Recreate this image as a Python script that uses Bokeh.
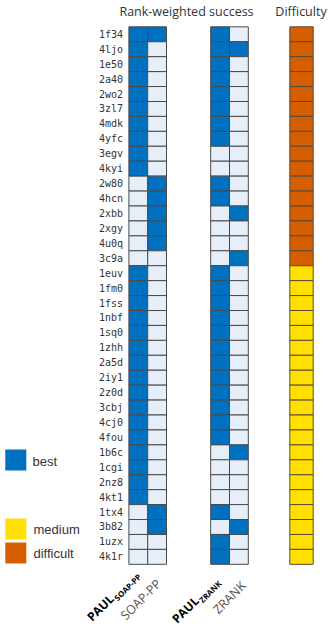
import math
from bokeh.plotting import figure
from bokeh.models import Range1d
from bokeh.embed import file_html
from bokeh.resources import INLINE
from bokeh.core.properties import value

# ---------------- data ----------------
structures = ["1f34", "4ljo", "1e50", "2a40", "2wo2", "3zl7", "4mdk", "4yfc", "3egv", "4kyi",
              "2w80", "4hcn", "2xbb", "2xgy", "4u0q", "3c9a", "1euv", "1fm0", "1fss", "1nbf",
              "1sq0", "1zhh", "2a5d", "2iy1", "2z0d", "3cbj", "4cj0", "4fou", "1b6c", "1cgi",
              "2nz8", "4kt1", "1tx4", "3b82", "1uzx", "4k1r"]

# 1 = best, 0 = not best
paul_soap_pp = [1, 1, 1, 1, 1, 1, 1, 1, 1, 1, 0, 0, 0, 0, 0, 0, 1, 1, 1, 1,
                1, 1, 1, 1, 1, 1, 1, 1, 1, 1, 1, 1, 0, 0, 0, 0]
soap_pp      = [1, 0, 0, 0, 0, 0, 0, 0, 0, 0, 1, 1, 1, 1, 1, 0, 0, 0, 0, 0,
                0, 0, 0, 0, 0, 0, 0, 0, 0, 0, 0, 0, 1, 1, 0, 0]
paul_zrank   = [1, 1, 1, 1, 1, 1, 1, 1, 0, 0, 1, 1, 0, 0, 0, 0, 1, 1, 1, 1,
                1, 1, 1, 1, 1, 1, 1, 1, 0, 0, 0, 0, 1, 0, 1, 1]
zrank        = [0, 1, 0, 0, 0, 0, 0, 0, 0, 0, 0, 0, 1, 0, 0, 1, 0, 0, 0, 0,
                0, 0, 0, 0, 0, 0, 0, 0, 1, 0, 0, 0, 0, 1, 0, 0]

difficulty = ["difficult", "difficult", "difficult", "difficult", "difficult", "difficult",
              "difficult", "difficult", "difficult", "difficult", "difficult", "difficult",
              "difficult", "difficult", "difficult", "difficult",
              "medium", "medium", "medium", "medium", "medium", "medium", "medium", "medium",
              "medium", "medium", "medium", "medium", "medium", "medium", "medium", "medium",
              "medium", "medium", "medium", "medium"]

method_series = [paul_soap_pp, soap_pp, paul_zrank, zrank]

# ---------------- style / layout ----------------
BLUE = "#0070C0"
LIGHT = "#E6EFF9"
ORANGE = "#D55E00"
YELLOW = "#FFE000"
GRIDC = "#4a4a4a"
diff_colors = {"difficult": ORANGE, "medium": YELLOW}

PAGE = 0
W, H = 332, 627
ROW0 = 33.8     # px of first row centre inside figure
ROW_H = 14.93   # px per row


def fx(px):
    return px - PAGE


def fy(py):
    return (py - PAGE - ROW0) / ROW_H


col_centers = [137.8, 156.6, 219.6, 238.4]   # page px
col_w = 18.8
diff_center = 301.0
diff_w = 23.4

p = figure(width=W, height=H, output_backend="svg", toolbar_location=None,
           x_range=Range1d(0, W),
           y_range=Range1d((H - ROW0) / ROW_H, -ROW0 / ROW_H),
           x_axis_location=None, y_axis_location=None, min_border=0)
p.grid.visible = False
p.outline_line_color = None
p.background_fill_color = "white"
p.border_fill_color = "white"

# method cells
xs, ys, cols = [], [], []
for ci, series in enumerate(method_series):
    for ri, v in enumerate(series):
        xs.append(fx(col_centers[ci]))
        ys.append(ri)
        cols.append(BLUE if v else LIGHT)
p.rect(x=xs, y=ys, width=col_w, height=1, fill_color=cols,
       line_color=GRIDC, line_width=1)

# difficulty cells
p.rect(x=[fx(diff_center)] * len(difficulty), y=list(range(len(difficulty))),
       width=diff_w, height=1, fill_color=[diff_colors[d] for d in difficulty],
       line_color="#5a4a3a", line_width=1)

# row labels
p.text(x=[fx(122.5)] * len(structures), y=list(range(len(structures))), text=structures,
       text_align="right", text_baseline="middle",
       text_font=value("DejaVu Sans Mono"), text_font_size="10px", text_color="#333333")

# titles
p.text(x=[fx(186), fx(300.5)], y=[fy(10.5), fy(10.5)],
       text=["Rank-weighted success", "Difficulty"],
       text_align="center", text_baseline="middle",
       text_font=value("Open Sans"), text_font_size="12.5px", text_color="#333333")

# legend
p.rect(x=[fx(15.3), fx(15.3), fx(15.3)], y=[fy(459.5), fy(528.5), fy(552.5)],
       width=21, height=21, width_units="screen", height_units="screen",
       fill_color=[BLUE, YELLOW, ORANGE], line_color=None)
p.text(x=[fx(32), fx(33), fx(33)], y=[fy(461), fy(529), fy(553)],
       text=["best", "medium", "difficult"], text_align="left", text_baseline="middle",
       text_font=value("Liberation Sans"), text_font_size="13px", text_color="#333333")

# bottom rotated labels
ang = math.pi / 4
d = (math.cos(ang), -math.sin(ang))   # along text (screen px)
n = (math.sin(ang), math.cos(ang))    # text "down" (screen px)

# plain labels
p.text(x=[fx(158.3), fx(243)], y=[fy(581), fy(583)], text=["SOAP-PP", "ZRANK"],
       angle=ang, text_align="right", text_baseline="middle",
       text_font=value("Open Sans"), text_font_size="12.5px", text_color="#555555")

# PAUL + subscript
junctions = [(111.0, 596.0), (196.0, 598.0)]
subs = ["SOAP-PP", "ZRANK"]
for (jx, jy), sub in zip(junctions, subs):
    p.text(x=[fx(jx)], y=[fy(jy)], text=["PAUL"], angle=ang,
           text_align="right", text_baseline="middle",
           text_font=value("Open Sans"), text_font_style="bold",
           text_font_size="12px", text_color="#000000")
    sx = jx + 1.0 * d[0] + 4.5 * n[0]
    sy = jy + 1.0 * d[1] + 4.5 * n[1]
    p.text(x=[fx(sx)], y=[fy(sy)], text=[sub], angle=ang,
           text_align="left", text_baseline="middle",
           text_font=value("Open Sans"), text_font_style="bold",
           text_font_size="8px", text_color="#000000")

open("out.html", "w").write(file_html(p, INLINE))
